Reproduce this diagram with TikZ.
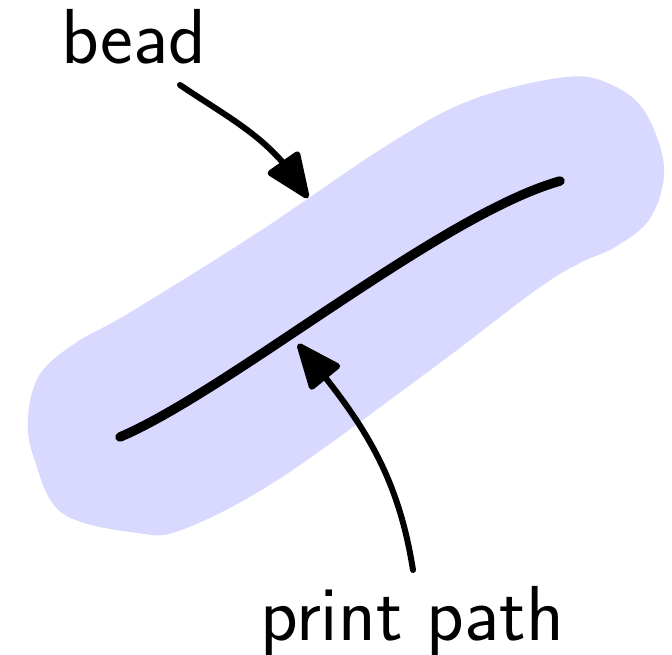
\documentclass[tikz,border=0pt]{standalone}
\usetikzlibrary{arrows.meta,bending}
\begin{document}
\begin{tikzpicture}[x=1pt,y=-1pt,
  beadfill/.style={fill=blue!15},
  pathline/.style={line width=9.5pt,line cap=round},
  pointer/.style={line width=6pt,line cap=round,-{Triangle[round,length=50pt,width=40pt]}},
  lbl/.style={font=\sffamily\fontsize{78}{84}\selectfont,inner sep=0pt}]
\useasboundingbox (0,0) rectangle (672,654);
\fill[beadfill] plot[smooth cycle,tension=0.6] coordinates {
  (566,77) (612,85) (645,112) (664,167) (651,217) (617,246) (580,263)
  (536,290) (429,371) (279,479) (184,529) (137,533) (62,513) (34,458)
  (28,417) (40,374) (77,342) (129,313) (257,233) (386,146) (471,100)};
\coordinate (ps) at (120,437);
\coordinate (pe) at (560,181);
\draw[pathline] (ps) .. controls (230,390) and (440,215) .. (pe);
\node[lbl,anchor=base west] (bead) at (61,63) {bead};
\node[lbl,anchor=base west] (print) at (260,640) {print path};
\coordinate (beadtail) at (180,85);
\coordinate (beadtip) at (308,198);
\coordinate (pptail) at (413,570);
\coordinate (pptip) at (298,344);
\draw[pointer] (beadtail) to[out=-34,in=120] (beadtip);
\draw[pointer] (pptail) to[out=99,in=-50] (pptip);
\end{tikzpicture}
\end{document}
